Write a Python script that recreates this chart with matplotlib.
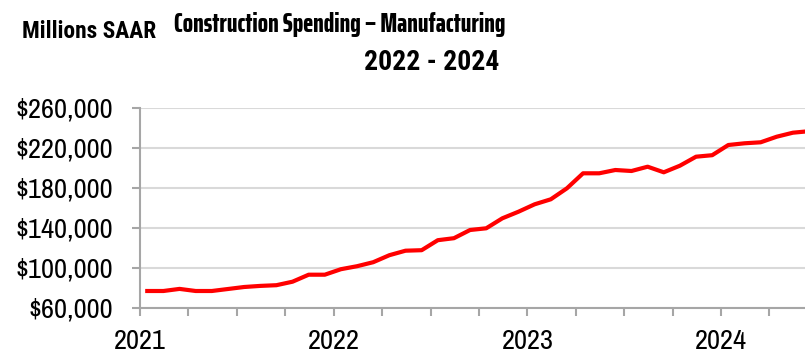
# construction spending - manufacturing, monthly SAAR

import numpy as np
import matplotlib
matplotlib.use('Agg')
import matplotlib.pyplot as plt
from matplotlib.ticker import FuncFormatter

plt.rcParams['font.family'] = ['Archivo Narrow', 'Roboto Condensed', 'DejaVu Sans']

# Jan 2021 .. Jun 2024, millions of dollars SAAR
months = np.arange(42)
spending = [76700, 76700, 78800, 76700, 76700, 78700, 80700, 81800, 82500, 86000, 93000, 93000,
            98500, 101500, 105500, 112500, 117000, 117500, 127500, 129500, 137700, 139400, 149400, 156000,
            163400, 168400, 179400, 194400, 194400, 197700, 196700, 201000, 195400, 202000, 211000, 212500,
            222700, 224400, 225400, 231000, 235000, 236500]
year_labels = ['2021', '2022', '2023', '2024']
y_ticks = [60000, 100000, 140000, 180000, 220000, 260000]

grid_col = '#d9d9d9'
axis_col = '#a6a6a6'

fig = plt.figure(figsize=(8.05, 3.55), dpi=100)
ax = fig.add_axes([140/805, 1 - 307.7/355, 665/805, 200/355])

ax.plot(months + 0.45, spending, color='#ff0000', lw=3, solid_joinstyle='round')

ax.set_xlim(0, 41.2)
ax.set_ylim(60000, 260000)
ax.set_yticks(y_ticks)
ax.yaxis.set_major_formatter(FuncFormatter(lambda v, p: '${:,.0f}'.format(v)))
ax.set_xticks(np.arange(0, 42, 3))
ax.set_xticklabels([year_labels[i // 12] if i % 12 == 0 else '' for i in range(0, 42, 3)])

ax.grid(axis='y', color=grid_col, lw=1.5)
ax.set_axisbelow(True)
for s in ['top', 'right']:
	ax.spines[s].set_visible(False)
for s in ['left', 'bottom']:
	ax.spines[s].set_color(axis_col)
	ax.spines[s].set_linewidth(1.5)
ax.tick_params(axis='both', colors=axis_col, width=1.5, length=6, labelcolor='black', labelsize=20.5)
ax.tick_params(axis='y', pad=13)
ax.tick_params(axis='x', pad=9)

fig.text(22/805, 1 - 38/355, 'Millions SAAR', fontsize=16.8, fontweight='bold',
		 family='Roboto Condensed', va='baseline', ha='left')
fig.text(340/805, 1 - 32/355, 'Construction Spending \u2013 Manufacturing', fontsize=19.5,
		 fontweight='heavy', family='Saira ExtraCondensed', va='baseline', ha='center')
fig.text(432/805, 1 - 70/355, '2022 - 2024', fontsize=20, fontweight='bold',
		 family='Roboto Condensed', va='baseline', ha='center')

fig.savefig('out.png', dpi=100)
